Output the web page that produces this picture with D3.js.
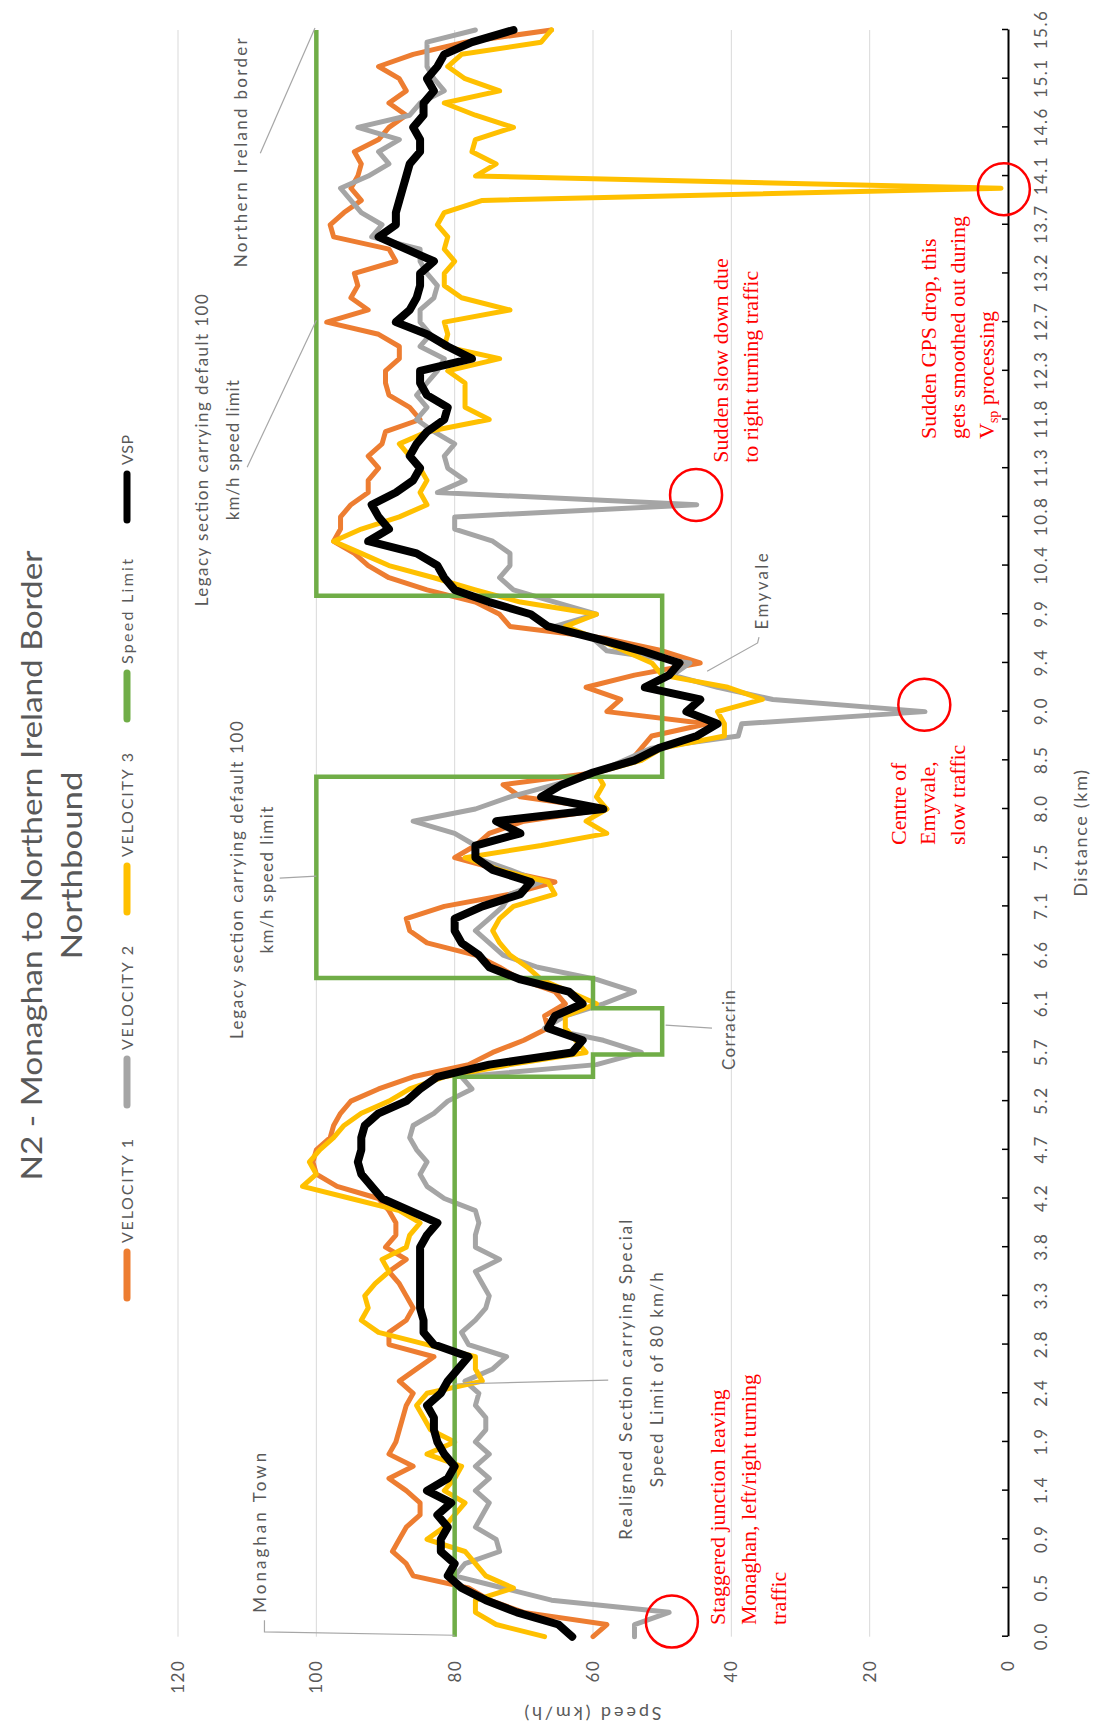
<!DOCTYPE html>
<html><head><meta charset="utf-8">
<script src="https://cdn.jsdelivr.net/npm/d3@7"></script>
<style>
html,body{margin:0;padding:0;background:#fff;}
svg{display:block;}
</style>
</head><body>
<svg id="chart" width="1099" height="1731"></svg>
<script>
// ---------- DATA ----------
const distanceLabels = ["0.0","0.5","0.9","1.4","1.9","2.4","2.8","3.3","3.8","4.2","4.7","5.2","5.7","6.1","6.6","7.1","7.5","8.0","8.5","9.0","9.4","9.9","10.4","10.8","11.3","11.8","12.3","12.7","13.2","13.7","14.1","14.6","15.1","15.6"];
const speedTicks = [0,20,40,60,80,100,120];
const pointsPerLabel = 4; // samples per labelled distance interval
const seriesNames = ["VELOCITY 1","VELOCITY 2","VELOCITY 3","Speed Limit","VSP"];

const velocity1 = [
 60,58,70,75, 78,86,87,89, 88,87,85,85, 87,89.5,86,89.5, 88.5,88,87.5,87,
 86,88,85.5,83, 89.5,89.5,87,86, 87,88,89.5,87, 90,88.5,88.5,89.5, 91,97,100,100.5,
 100,98,97.5,96.5, 95,91,86,78, 74.5,70,66.5,67, 64,65.5,70.5,73.5, 77,84,86.5,87,
 81.5,72,65.5,73.5, 80,77,75,70, 58,70.5,73,59.5, 54.5,53,51.5,43.5, 58,56,61,54,
 44.5,50,58,72, 73.5,77,84,89.5, 92.5,94.5,97.5,96.5, 96.5,95,92.5,92.5, 91,92.5,90.5,90,
 85,86.5,89.5,90, 90,88,88,91, 98.5,92.5,95,94, 94.5,88.5,89.5,97.5, 98,96,93.5,95,
 94,93.5,94.5,91, 89.5,87,89.5,87, 88,91,86,78.5, 66];

const velocity2 = [
 54,54,49,66, 73,80,78.5,73.5, 74,77,76,75, 77,75,77,75, 77,75.5,75.5,77,
 76.5,78.5,74.5,72.5, 78,79,77,75.5, 75,76,77,73.5, 77,77,76.5,77, 81.5,84,85,84,
 85.5,86.5,86,83, 81,77.5,79,59.5, 53,58.5,67,64, 58.5,54,59.5,68, 73,75,77,75,
 73,72,67.5,72, 77,77,80,86, 77,72,65.5,59.5, 55.5,51.5,39,38.5, 12,34,42,48.5,
 46,58,60,65.5, 59.5,65.5,71.5,73.5, 72,72,74.5,80, 80,45,82.5,78.5, 81,81.5,80,83,
 85.5,84,85.5,84, 82.5,81.5,85,83.5, 85,85,83,82.5, 84,85,85,92, 90.5,93.5,95,96.5,
 92.5,89.5,91,88, 94,86.5,85,81.5, 83,84,84,84, 77];

const velocity3 = [
 67,74,77,77, 71.5,75.5,77,78.5, 84,81.5,80,78.5, 81.5,80,79,84, 80,83.5,84.5,85.5,
 84,76,77,77, 84,91,93.5,92.5, 93,91.5,89.5,90.5, 87,86.5,85,88, 95,102,100,101,
 99.5,97.5,96,93.5, 89.5,86.5,81.5,72, 61,62.5,64,64, 59.5,63.5,67.5,69.5, 72,73.5,74.5,73.5,
 71.5,65.5,66.5,73.5, 78.5,67.5,58,61, 58,59.5,58.5,59.5, 53,50,41,41, 42,35.5,40.5,50,
 51.5,55.5,59.5,64, 59.5,70.5,77,83, 89.5,93.5,97.5,93.5, 88,84,85,84, 85,86.5,88,84,
 75,78.5,78.5,78.5, 81,73.5,81.5,81, 81.5,72,79,81.5, 81.5,80,81.5,81, 82.5,81.5,76,1,
 77,74,77.5,77, 71.5,77,81.5,73.5, 78.5,81,79,67.5, 66];

const vspSeries = [
 63,65,71,75.5, 79,81,80,82, 82,81,82.5,80.5, 84,81,80,81.5, 82.5,83,83,84,
 82,81,79.5,78, 83,84.5,84.5,85, 85,85,85,85, 85,84,82.5,86.5, 90.5,92,93.5,94,
 93.5,93.5,93,91, 87,85,82.5,75, 63,61.5,66.5,65.5, 61.5,63.5,70.5,75, 76.5,79,80,80,
 76,70.5,69,74.5, 77,77,70.5,74, 58.5,67.5,64.5,60, 54,50.5,45,42, 46.5,44.5,52.5,49,
 47.5,53,59.5,66.5, 69,75,80,81.5, 82.5,85.5,92.5,89.5, 91,92,88.5,86, 85,86.5,85.5,84,
 81.5,81,84,85, 85,77.5,81,84, 88.5,86.5,85.5,85, 85,83,87,91, 88.5,88.5,88,87.5,
 87,86.5,85,85, 86,84.5,84.5,83, 84,82.5,81.5,77.5, 71.5];

// speed limit: position (in labelled-interval units) where each limit starts
const limitStart = [0, 11.5, 11.96, 12.91, 13.53, 17.66, 21.38, 33];
const limitValue = [80, 60, 50, 60, 100, 50, 100, 100];

// ---------- LAYOUT ----------
const W = 1731, H = 1099;           // un-rotated chart size
const svg = d3.select("#chart");
const g = svg.append("g").attr("transform", `translate(0,${W}) rotate(-90)`);
const sans = "Lato, 'Open Sans', 'Liberation Sans', sans-serif";
const serif = "'Liberation Serif', 'DejaVu Serif', serif";
const txtCol = "#595959";

const x = d3.scaleLinear().domain([0, distanceLabels.length - 1]).range([94.3, 1701]);
const y = d3.scaleLinear().domain([0, 120]).range([1008, 178]);

// gridlines
g.append("g").selectAll("line").data(speedTicks.filter(d => d > 0)).join("line")
  .attr("x1", x(0)).attr("x2", x(distanceLabels.length - 1))
  .attr("y1", d => y(d)).attr("y2", d => y(d))
  .attr("stroke", "#d9d9d9").attr("stroke-width", 1);

// y axis labels
const yAxis = g.append("g").attr("transform", `translate(${x(0)},0)`)
  .call(d3.axisLeft(y).tickValues(speedTicks).tickSize(0).tickPadding(23));
yAxis.select(".domain").remove();
yAxis.selectAll("text").attr("font-family", sans).attr("font-size", 17)
  .attr("fill", txtCol).attr("letter-spacing", 1.5);

// x axis
const xAxis = g.append("g").attr("transform", `translate(0,${y(0)})`)
  .call(d3.axisBottom(x).tickValues(d3.range(distanceLabels.length))
    .tickFormat(i => distanceLabels[i]).tickSizeInner(-6).tickSizeOuter(0).tickPadding(27));
xAxis.select(".domain").attr("stroke", "#000").attr("stroke-width", 2);
xAxis.selectAll(".tick line").attr("stroke", "#000").attr("stroke-width", 1.5);
xAxis.selectAll("text").attr("font-family", sans).attr("font-size", 17)
  .attr("fill", txtCol).attr("letter-spacing", 1.5);

// axis titles
g.append("text").attr("transform", `translate(18,${(y(0) + y(120)) / 2}) rotate(-90)`)
  .attr("text-anchor", "middle").attr("dy", "0.35em")
  .attr("font-family", sans).attr("font-size", 18).attr("fill", txtCol)
  .attr("textLength", 137).attr("lengthAdjust", "spacing").text("Speed (km/h)");
g.append("text").attr("x", (x(0) + x(distanceLabels.length - 1)) / 2).attr("y", 1081)
  .attr("text-anchor", "middle").attr("dy", "0.35em")
  .attr("font-family", sans).attr("font-size", 18).attr("fill", txtCol)
  .attr("textLength", 127).attr("lengthAdjust", "spacing").text("Distance (km)");

// title
const titleG = g.append("g").attr("font-family", sans).attr("font-weight", 400)
  .attr("fill", txtCol).attr("text-anchor", "middle");
titleG.append("text").attr("x", W / 2).attr("y", 42).attr("font-size", 29)
  .attr("textLength", 630).attr("lengthAdjust", "spacingAndGlyphs")
  .text("N2 - Monaghan to Northern Ireland Border");
titleG.append("text").attr("x", W / 2).attr("y", 82).attr("font-size", 29)
  .attr("textLength", 188).attr("lengthAdjust", "spacingAndGlyphs")
  .text("Northbound");

// ---------- SERIES ----------
const colors = ["#ED7D31", "#A5A5A5", "#FFC000", "#70AD47", "#000000"];
const widths = [5, 5, 5, 4.5, 8];
const line = d3.line().x((d, i) => x(i / pointsPerLabel)).y(d => y(d));
[velocity1, velocity2, velocity3].forEach((s, k) => {
  g.append("path").datum(s).attr("d", line).attr("fill", "none")
    .attr("stroke", colors[k]).attr("stroke-width", widths[k])
    .attr("stroke-linejoin", "round").attr("stroke-linecap", "round");
});
const limitLine = d3.line().curve(d3.curveStepAfter)
  .x((d, i) => x(limitStart[i])).y(d => y(d));
g.append("path").datum(limitValue).attr("d", limitLine).attr("fill", "none")
  .attr("stroke", colors[3]).attr("stroke-width", widths[3]);
g.append("path").datum(vspSeries).attr("d", line).attr("fill", "none")
  .attr("stroke", colors[4]).attr("stroke-width", widths[4])
  .attr("stroke-linejoin", "round").attr("stroke-linecap", "round");

// ---------- LEGEND ----------
const legendX = [429, 622, 815, 1008, 1207];
const legendTextLen = [104, 104, 104, 105, 30];
const leg = g.append("g");
seriesNames.forEach((name, i) => {
  leg.append("line").attr("x1", legendX[i] + 4).attr("x2", legendX[i] + 50)
    .attr("y1", 127).attr("y2", 127).attr("stroke", colors[i])
    .attr("stroke-width", 7).attr("stroke-linecap", "round");
  leg.append("text").attr("x", legendX[i] + 59).attr("y", 127).attr("dy", "0.35em")
    .attr("font-family", sans).attr("font-size", 16).attr("fill", txtCol)
    .attr("textLength", legendTextLen[i]).attr("lengthAdjust", "spacing").text(name);
});

// ---------- ANNOTATIONS ----------
const lp = d3.line().x(d => x(d[0])).y(d => y(d[1]));
const leaders = [
  [[0.34,107.5],[0.1,107.5],[0.03,80]],
  [[5.27,57.8],[5.19,80]],
  [[15.58,105.3],[15.62,100]],
  [[24.02,110],[27.04,100]],
  [[12.5,42.8],[12.56,49.5]],
  [[20.53,36],[20.41,36.2],[19.83,43.5]],
  [[30.47,108.1],[33.04,100.2]]
];
g.append("g").selectAll("path").data(leaders).join("path")
  .attr("d", lp).attr("fill", "none").attr("stroke", "#A6A6A6").attr("stroke-width", 1.2);

const grayLabels = [
  {p: 0.49, anchor: "start", lines: [["Monaghan Town", 108.2, 160]]},
  {p: 5.28, anchor: "middle", lines: [["Realigned Section carrying Special", 55.2, 320], ["Speed Limit of 80 km/h", 50.8, 215]]},
  {p: 15.54, anchor: "middle", lines: [["Legacy section carrying default 100", 111.5, 318], ["km/h speed limit", 107.1, 147]]},
  {p: 24.37, anchor: "middle", lines: [["Legacy section carrying default 100", 116.5, 312], ["km/h speed limit", 112.1, 140]]},
  {p: 12.46, anchor: "middle", lines: [["Corracrin", 40.4, 80]]},
  {p: 21.47, anchor: "middle", lines: [["Emyvale", 35.6, 76]]},
  {p: 30.48, anchor: "middle", lines: [["Northern Ireland border", 110.9, 229]]}
];
grayLabels.forEach(l => {
  l.lines.forEach(([t, v, len]) => {
    g.append("text").attr("x", x(l.p)).attr("y", y(v)).attr("dy", "0.35em")
      .attr("text-anchor", l.anchor).attr("font-family", sans).attr("font-size", 17)
      .attr("fill", txtCol).attr("textLength", len).attr("lengthAdjust", "spacing").text(t);
  });
});

const redLabels = [
  {p: 0.24, lines: [["Staggered junction leaving", 42], ["Monaghan, left/right turning", 37.6], ["traffic", 33.2]]},
  {p: 16.26, lines: [["Centre of", 15.8], ["Emyvale,", 11.6], ["slow traffic", 7.4]]},
  {p: 24.11, lines: [["Sudden slow down due", 41.6], ["to right turning traffic", 37.2]]},
  {p: 24.6, lines: [["Sudden GPS drop, this", 11.5], ["gets smoothed out during", 7.3], ["V|sp| processing", 3.1]]}
];
redLabels.forEach(l => {
  l.lines.forEach(([t, v]) => {
    const te = g.append("text").attr("x", x(l.p)).attr("y", y(v)).attr("dy", "0.35em")
      .attr("font-family", serif).attr("font-size", 22).attr("fill", "#FF0000");
    if (t.includes("|")) {
      const parts = t.split("|");
      te.append("tspan").text(parts[0]);
      te.append("tspan").attr("font-size", 14).attr("dy", 4).text(parts[1]);
      te.append("tspan").attr("dy", -4).text(parts[2]);
    } else te.text(t);
  });
});

const circles = [[0.31, 48.6], [19.14, 12.1], [23.45, 45.1], [29.73, 0.6]];
g.append("g").selectAll("ellipse").data(circles).join("ellipse")
  .attr("cx", d => x(d[0])).attr("cy", d => y(d[1])).attr("rx", 26).attr("ry", 26)
  .attr("fill", "none").attr("stroke", "#FF0000").attr("stroke-width", 2.5);
</script>
</body></html>
